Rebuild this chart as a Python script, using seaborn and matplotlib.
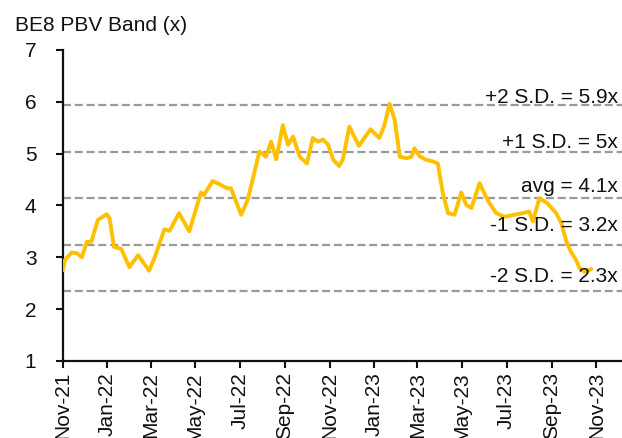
import matplotlib
matplotlib.use("Agg")
import matplotlib.pyplot as plt
import matplotlib.dates as mdates
import matplotlib.transforms as mtransforms
import seaborn as sns
import pandas as pd

dates = [
    "2021-11-01", "2021-11-04", "2021-11-13", "2021-11-20", "2021-11-27", "2021-12-04",
    "2021-12-10", "2021-12-19", "2021-12-31", "2022-01-04", "2022-01-10", "2022-01-20",
    "2022-01-31", "2022-02-12", "2022-02-27", "2022-03-07", "2022-03-20", "2022-03-27",
    "2022-04-09", "2022-04-23", "2022-05-09", "2022-05-13", "2022-05-25", "2022-06-03",
    "2022-06-14", "2022-06-19", "2022-07-03", "2022-07-12", "2022-07-28", "2022-08-06",
    "2022-08-13", "2022-08-20", "2022-08-29", "2022-09-05", "2022-09-12", "2022-09-21",
    "2022-10-01", "2022-10-09", "2022-10-16", "2022-10-23", "2022-10-30", "2022-11-06",
    "2022-11-14", "2022-11-19", "2022-11-28", "2022-12-11", "2022-12-27", "2023-01-08",
    "2023-01-15", "2023-01-22", "2023-01-29", "2023-02-05", "2023-02-14", "2023-02-21",
    "2023-02-25", "2023-03-04", "2023-03-13", "2023-03-22", "2023-03-29", "2023-04-05",
    "2023-04-12", "2023-04-21", "2023-04-30", "2023-05-07", "2023-05-14", "2023-05-25",
    "2023-06-06", "2023-06-17", "2023-06-28", "2023-07-12", "2023-07-23", "2023-08-01",
    "2023-08-06", "2023-08-15", "2023-08-26", "2023-09-07", "2023-09-14", "2023-09-21",
    "2023-09-27", "2023-10-04", "2023-10-09", "2023-10-16", "2023-10-25",
]
pbv = [
    2.75, 2.95, 3.09, 3.08, 3.00, 3.30,
    3.30, 3.72, 3.83, 3.75, 3.20, 3.16,
    2.81, 3.04, 2.74, 3.01, 3.54, 3.51,
    3.85, 3.50, 4.25, 4.20, 4.47, 4.41,
    4.33, 4.33, 3.82, 4.11, 5.04, 4.94,
    5.23, 4.89, 5.55, 5.17, 5.33, 4.94,
    4.81, 5.30, 5.23, 5.27, 5.17, 4.88,
    4.76, 4.88, 5.52, 5.15, 5.47, 5.30,
    5.55, 5.96, 5.65, 4.94, 4.91, 4.94,
    5.10, 4.95, 4.88, 4.85, 4.81, 4.23,
    3.85, 3.82, 4.25, 4.01, 3.95, 4.43,
    4.08, 3.85, 3.78, 3.82, 3.85, 3.88,
    3.69, 4.14, 4.04, 3.85, 3.66, 3.30,
    3.11, 2.95, 2.79, 2.72, 2.77,
]

band_values = [5.93, 5.03, 4.14, 3.24, 2.34]
band_labels = ["+2 S.D. = 5.9x", "+1 S.D. = 5x", "avg = 4.1x", "-1 S.D. = 3.2x", "-2 S.D. = 2.3x"]
band_label_y = [6.09, 5.21, 4.36, 3.62, 2.62]

tick_dates = ["2021-11-01", "2022-01-01", "2022-03-01", "2022-05-01", "2022-07-01",
              "2022-09-01", "2022-11-01", "2023-01-01", "2023-03-01", "2023-05-01",
              "2023-07-01", "2023-09-01", "2023-11-01"]
y_ticks = [1, 2, 3, 4, 5, 6, 7]
title = "BE8 PBV Band (x)"

sns.set_style("ticks")
plt.rcParams["font.family"] = ["Liberation Sans", "DejaVu Sans"]

df = pd.DataFrame({"date": pd.to_datetime(dates), "pbv": pbv})

fig = plt.figure(figsize=(6.22, 4.38), dpi=100)
ax = fig.add_axes([0.101, 0.176, 0.899, 0.71])

for v in band_values:
    ax.axhline(v, color="#9a9a9a", lw=1.6, linestyle=(0, (3.6, 1.7)), zorder=1)

sns.lineplot(data=df, x="date", y="pbv", ax=ax, color="#FFC000", lw=2.8, zorder=3)

trans = mtransforms.blended_transform_factory(ax.transAxes, ax.transData)
for lab, yy in zip(band_labels, band_label_y):
    ax.text(0.993, yy, lab, transform=trans, ha="right", va="center",
            fontsize=15, color="#111111", zorder=4)

ax.set_xlim(pd.Timestamp("2021-11-01"), pd.Timestamp("2023-12-06"))
ax.set_ylim(1, 7)
ax.set_yticks(y_ticks)
ax.set_xticks(pd.to_datetime(tick_dates))
ax.xaxis.set_major_formatter(mdates.DateFormatter("%b-%y"))
plt.setp(ax.get_xticklabels(), rotation=90, ha="center", va="top")
ax.tick_params(axis="both", labelsize=15, length=5, width=1.5, colors="#111111")
ax.tick_params(axis="y", pad=14)
ax.tick_params(axis="x", pad=3)
ax.set_xlabel("")
ax.set_ylabel("")
for s in ["top", "right"]:
    ax.spines[s].set_visible(False)
for s in ["left", "bottom"]:
    ax.spines[s].set_linewidth(1.6)
    ax.spines[s].set_color("#111111")

fig.text(0.024, 1 - 31 / 438, title, ha="left", va="baseline", fontsize=15, color="#111111")

fig.savefig("out.png", dpi=100)
